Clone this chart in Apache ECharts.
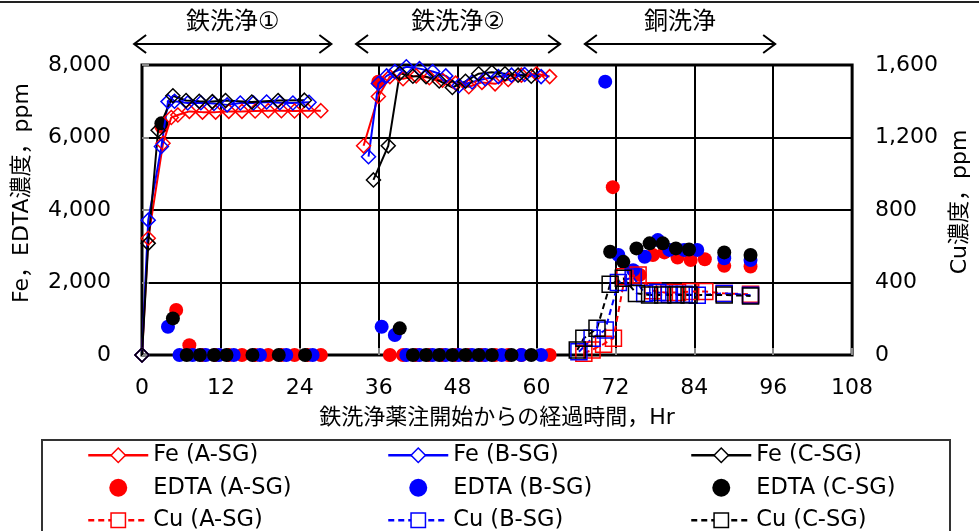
<!DOCTYPE html>
<html><head><meta charset="utf-8">
<script src="https://cdn.jsdelivr.net/npm/echarts@6/dist/echarts.min.js"></script>
<style>html,body{margin:0;padding:0;background:#fff}#c{width:979px;height:531px}</style>
</head><body><div id="c"></div>
<script>
const FONT = '"DejaVu Sans", "Noto Sans CJK JP", sans-serif';
const RED = '#ff0000', BLUE = '#0000ff', BLACK = '#000000';

// Fe (left axis, ppm) -- '-' breaks the line between the two iron-cleaning stages
const feA = [[0,0],[0.95,3220],[3.2,5840],[4.45,6550],[5.45,6620],[7.2,6720],[9.2,6700],[11.2,6700],[13.2,6720],[15.2,6720],[17.2,6730],[19.2,6740],[21.2,6740],[23.2,6730],[25.2,6740],[27.2,6740],
  [30.5,'-'],
  [33.7,5770],[35.95,7130],[37.7,7680],[39.7,7620],[41.7,7700],[43.7,7650],[45.7,7580],[47.7,7500],[49.7,7400],[51.7,7520],[53.7,7480],[55.7,7600],[57.7,7720],[60,7760],[62,7680]];
const feB = [[0,0],[0.95,3720],[2.95,5750],[3.95,6990],[4.95,7000],[6.95,6950],[8.95,6960],[10.95,6940],[12.95,6900],[14.95,6950],[16.95,6950],[18.95,6980],[20.95,6960],[22.95,6950],[25.4,6970],
  [30.5,'-'],
  [34.45,5470],[35.95,7490],[37.2,7700],[38.45,7820],[40.2,7950],[42.2,7900],[44.2,7820],[46.2,7700],[48.2,7430],[50.2,7530],[52.2,7620],[54.2,7680],[56.2,7720],[58.2,7740],[60.7,7680]];
const feC = [[0,0],[0.95,3080],[2.45,6200],[4.7,7150],[6.7,7020],[8.7,7000],[10.7,6990],[12.7,7020],[16.7,6980],[20.7,7020],[24.7,7030],
  [30.5,'-'],
  [35.2,4830],[37.45,5770],[39.2,7770],[41.2,7690],[43.2,7680],[45.2,7560],[47.2,7380],[49.2,7550],[51.2,7760],[53.2,7800],[55.2,7760],[57.2,7720],[59.2,7690]];

// EDTA (left axis, ppm)
const edtaA = [[2.95,6300],[5.2,1240],[7.2,270],[9.2,0],[11.2,0],[13.2,0],[15.2,0],[17.2,0],[19.2,0],[21.2,0],[23.2,0],[25.2,0],[27.2,0],
  [35.95,7540],[37.7,0],[39.7,0],[41.7,0],[43.7,0],[45.7,0],[47.7,0],[49.7,0],[51.7,0],[53.7,0],[55.7,0],[57.7,0],[62,0],
  [71.6,4630],[75.7,2210],[77.7,2760],[79.45,2830],[81.45,2690],[83.45,2620],[85.6,2640],[88.55,2460],[92.55,2440]];
const edtaB = [[3.95,780],[5.7,0],[7.7,0],[9.7,0],[11.7,0],[13.95,0],[17.95,0],[21.95,0],[25.95,0],
  [36.45,780],[38.45,550],[40.2,0],[42.2,0],[44.2,0],[46.2,0],[48.2,0],[50.2,0],[52.2,0],[54.7,0],[57.7,0],[60.7,0],
  [70.45,7540],[72.45,2760],[74.7,2340],[76.45,2710],[78.45,3170],[80.2,2900],[82.45,2900],[84.45,2900],[88.55,2670],[92.55,2620]];
const edtaC = [[2.95,6390],[4.7,1010],[6.8,0],[8.8,0],[10.95,0],[12.85,0],[16.8,0],[20.8,0],[24.8,0],
  [39.2,735],[41.2,0],[43.2,0],[45.2,0],[47.2,0],[49.2,0],[51.2,0],[53.2,0],[56.2,0],[59.2,0],
  [71.2,2850],[73.2,2570],[75.2,2940],[77.2,3080],[79.2,3080],[81.2,2940],[83.2,2910],[88.55,2830],[92.55,2760]];

// Cu (right axis, ppm)
const cuA = [[67.2,10],[68.45,28],[70.2,60],[71.7,92],[73.45,432],[75.45,441],[77.7,355],[79.45,345],[81.45,345],[83.45,350],[85.6,350],[88.55,340],[92.55,335]];
const cuB = [[66.45,18],[68.45,92],[70.45,138],[72.45,400],[74.7,430],[76.45,340],[78.45,345],[80.2,335],[82.45,335],[84.45,330],[88.55,340],[92.55,330]];
const cuC = [[66.2,28],[67.2,92],[69.2,147],[71.2,390],[73.2,423],[75.2,340],[77.2,331],[79.2,331],[81.2,331],[83.2,331],[88.55,331],[92.55,326]];

// stage annotations (hours)
const stageLabels = ['鉄洗浄①', '鉄洗浄②', '銅洗浄'];
const stageStart = [-1.2, 32.55, 67.35];
const stageEnd = [28.8, 63.6, 96.3];

const names = {
  feA: 'Fe (A-SG)', feB: 'Fe (B-SG)', feC: 'Fe (C-SG)',
  edA: 'EDTA (A-SG)', edB: 'EDTA (B-SG)', edC: 'EDTA (C-SG)',
  cuA: 'Cu (A-SG)', cuB: 'Cu (B-SG)', cuC: 'Cu (C-SG)'
};

function feSeries(name, data, c) {
  return { name, type: 'line', data, xAxisIndex: 0, yAxisIndex: 0, connectNulls: false, clip: false,
    symbol: 'diamond', symbolSize: 14, showAllSymbol: true,
    itemStyle: { color: 'rgba(255,255,255,0)', borderColor: c, borderWidth: 1.5 },
    lineStyle: { color: c, width: 2 }, emphasis: { disabled: true }, animation: false };
}
function edSeries(name, data, c) {
  return { name, type: 'scatter', data, yAxisIndex: 0, clip: false, symbol: 'circle', symbolSize: 14,
    itemStyle: { color: c, opacity: 1 }, emphasis: { disabled: true }, animation: false };
}
function cuSeries(name, data, c) {
  return { name, type: 'line', data, yAxisIndex: 1, clip: false,
    symbol: 'rect', symbolSize: 16, showAllSymbol: true,
    itemStyle: { color: 'rgba(255,255,255,0)', borderColor: c, borderWidth: 1.5 },
    lineStyle: { color: c, width: 2, type: [6, 4] }, emphasis: { disabled: true }, animation: false };
}
function lineItem(name) { return { name, itemStyle: { color: '#fff', borderWidth: 1.5 }, lineStyle: { width: 2.5 } }; }
function legendCol(left, items) {
  return { orient: 'vertical', left, top: 444, height: 120, padding: 0, itemWidth: 60, itemHeight: 18, itemGap: 10,
    selectedMode: false,
    textStyle: { fontFamily: FONT, fontSize: 22.5, lineHeight: 22, color: '#000' },
    data: items };
}
const fmt = v => v.toLocaleString('en-US');

const chart = echarts.init(document.getElementById('c'), null, { renderer: 'canvas' });
chart.setOption({
  animation: false,
  backgroundColor: '#fff',
  textStyle: { fontFamily: FONT },
  grid: { left: 142, right: 116, top: 65, bottom: 176, show: true, borderColor: '#000', borderWidth: 3, backgroundColor: 'transparent' },
  xAxis: { type: 'value', min: 0, max: 108, interval: 12,
    name: '鉄洗浄薬注開始からの経過時間，Hr', nameLocation: 'middle', nameGap: 52,
    nameTextStyle: { fontFamily: FONT, fontSize: 22, color: '#000' },
    axisLine: { show: false }, axisTick: { show: true, inside: true, length: 7, lineStyle: { color: '#888', width: 2 } },
    axisLabel: { fontFamily: FONT, fontSize: 22, color: '#000', margin: 22 },
    splitLine: { show: true, lineStyle: { color: '#000', width: 2 } } },
  yAxis: [
    { type: 'value', min: 0, max: 8000, interval: 2000, position: 'left',
      name: 'Fe，EDTA濃度，ppm', nameLocation: 'middle', nameGap: 109, nameRotate: 90,
      nameTextStyle: { fontFamily: FONT, fontSize: 22, color: '#000', padding: [0, 0, 0, 34] },
      axisLine: { show: false }, axisTick: { show: true, inside: true, length: 7, lineStyle: { color: '#888', width: 2 } },
      axisLabel: { fontFamily: FONT, fontSize: 22, color: '#000', margin: 31, formatter: fmt },
      splitLine: { show: true, lineStyle: { color: '#000', width: 2 } } },
    { type: 'value', min: 0, max: 1600, interval: 400, position: 'right',
      name: 'Cu濃度，ppm', nameLocation: 'middle', nameGap: 93, nameRotate: 90,
      nameTextStyle: { fontFamily: FONT, fontSize: 22, color: '#000', padding: [0, 0, 0, 16] },
      axisLine: { show: false }, axisTick: { show: false },
      axisLabel: { fontFamily: FONT, fontSize: 22, color: '#000', margin: 23, formatter: fmt },
      splitLine: { show: false } }
  ],
  legend: [
    legendCol(87, [lineItem(names.feA), names.edA, lineItem(names.cuA)]),
    legendCol(387, [lineItem(names.feB), names.edB, lineItem(names.cuB)]),
    legendCol(690, [lineItem(names.feC), names.edC, lineItem(names.cuC)])
  ],
  series: [
    feSeries(names.feA, feA, RED), feSeries(names.feB, feB, BLUE), feSeries(names.feC, feC, BLACK),
    edSeries(names.edA, edtaA, RED), edSeries(names.edB, edtaB, BLUE), edSeries(names.edC, edtaC, BLACK),
    cuSeries(names.cuA, cuA, RED), cuSeries(names.cuB, cuB, BLUE), cuSeries(names.cuC, cuC, BLACK)
  ]
});

// annotations drawn at positions derived from the x axis
const gfx = [
  { type: 'line', shape: { x1: 0, y1: 2, x2: 979, y2: 2 }, style: { stroke: '#222', lineWidth: 2 } },
  { type: 'rect', shape: { x: 42, y: 440, width: 908, height: 120 }, style: { fill: 'none', stroke: '#333', lineWidth: 2 }, z: -1 }
];
const AY = 44;
stageLabels.forEach((t, i) => {
  const xs = chart.convertToPixel({ xAxisIndex: 0 }, stageStart[i]);
  const xe = chart.convertToPixel({ xAxisIndex: 0 }, stageEnd[i]);
  gfx.push({ type: 'line', shape: { x1: xs, y1: AY, x2: xe, y2: AY }, style: { stroke: '#000', lineWidth: 2 } });
  gfx.push({ type: 'polyline', shape: { points: [[xs + 12, AY - 9], [xs, AY], [xs + 12, AY + 9]] }, style: { stroke: '#000', lineWidth: 2, fill: 'none' } });
  gfx.push({ type: 'polyline', shape: { points: [[xe - 12, AY - 9], [xe, AY], [xe - 12, AY + 9]] }, style: { stroke: '#000', lineWidth: 2, fill: 'none' } });
  gfx.push({ type: 'text', x: (xs + xe) / 2, y: 23, style: { text: t, fontFamily: FONT, fontSize: 24, fill: '#000', align: 'center', verticalAlign: 'middle' } });
});
chart.setOption({ graphic: gfx });
</script></body></html>
